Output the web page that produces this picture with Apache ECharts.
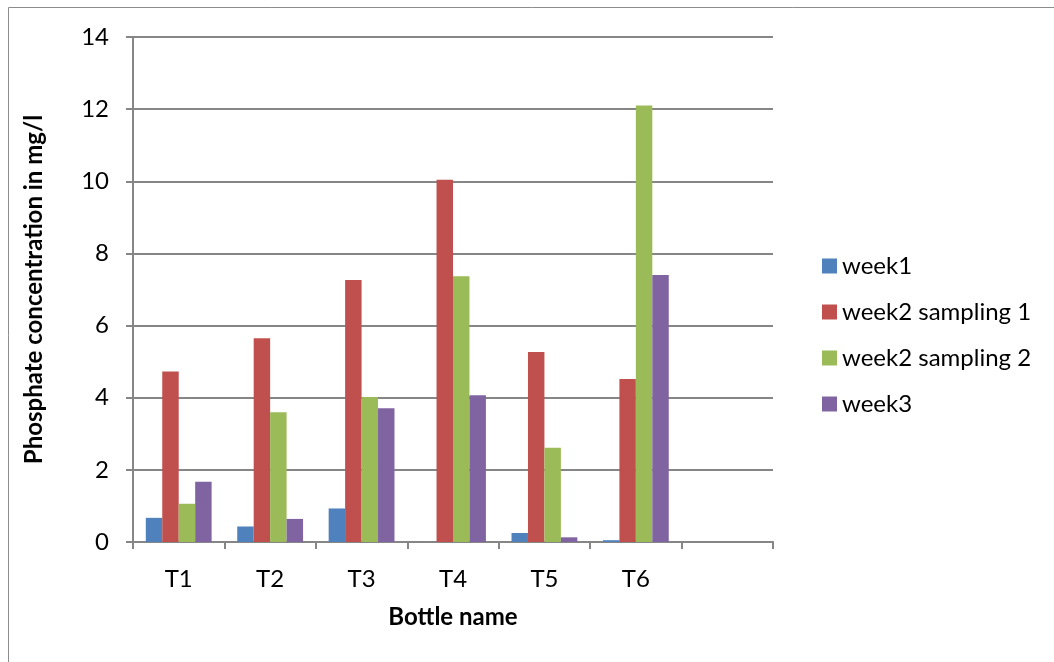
<!DOCTYPE html>
<html>
<head>
<meta charset="utf-8">
<script src="https://cdn.jsdelivr.net/npm/echarts@6/dist/echarts.min.js"></script>
<style>
  html, body { margin: 0; padding: 0; background: #fff; }
  #chart { width: 1054px; height: 662px; }
</style>
</head>
<body>
<div id="chart"></div>
<script>
// Bottle names (the last slot is an empty category)
const categories = ['T1', 'T2', 'T3', 'T4', 'T5', 'T6', ''];

// Phosphate concentration (mg/l) per sampling
const week1 = [0.67, 0.43, 0.93, 0, 0.25, 0.05, null];
const week2Sampling1 = [4.73, 5.65, 7.26, 10.04, 5.27, 4.52, null];
const week2Sampling2 = [1.06, 3.60, 4.02, 7.37, 2.61, 12.10, null];
const week3 = [1.67, 0.64, 3.71, 4.07, 0.13, 7.40, null];

const seriesNames = ['week1', 'week2 sampling 1', 'week2 sampling 2', 'week3'];
const seriesData = [week1, week2Sampling1, week2Sampling2, week3];
const colors = ['#4F81BD', '#C0504D', '#9BBB59', '#8064A2'];

const FONT = 'Lato, "Open Sans", sans-serif';
const GRAY = '#868686';

const chart = echarts.init(document.getElementById('chart'));

chart.setOption({
  animation: false,
  color: colors,
  textStyle: { fontFamily: FONT },
  graphic: [{
    type: 'rect',
    shape: { x: 8.5, y: 7.5, width: 1200, height: 800 },
    style: { fill: 'none', stroke: '#8c8c8c', lineWidth: 1 },
    silent: true
  }],
  grid: { left: 133, right: 281, top: 37, bottom: 120 },
  legend: {
    orient: 'vertical',
    left: 817,
    top: 249,
    icon: 'rect',
    itemWidth: 15,
    itemHeight: 15,
    itemGap: 22,
    data: seriesNames,
    textStyle: { fontFamily: FONT, fontSize: 24, lineHeight: 24, color: '#000' }
  },
  xAxis: {
    type: 'category',
    data: categories,
    name: 'Bottle name',
    nameLocation: 'middle',
    nameGap: 63,
    nameTextStyle: { fontFamily: FONT, fontSize: 24, fontWeight: 'bold', color: '#000' },
    axisLine: { lineStyle: { color: GRAY, width: 2 } },
    axisTick: { show: true, length: 7, alignWithLabel: false, lineStyle: { color: GRAY, width: 2 } },
    axisLabel: { fontFamily: FONT, fontSize: 24, color: '#000', margin: 25 },
    splitLine: { show: false }
  },
  yAxis: {
    type: 'value',
    min: 0,
    max: 14,
    interval: 2,
    name: 'Phosphate concentration in mg/l',
    nameLocation: 'middle',
    nameGap: 87,
    nameRotate: 90,
    nameTextStyle: { fontFamily: FONT, fontSize: 24, fontWeight: 'bold', color: '#000' },
    axisLine: { show: true, lineStyle: { color: GRAY, width: 2 } },
    axisTick: { show: true, length: 7, lineStyle: { color: GRAY, width: 2 } },
    axisLabel: { fontFamily: FONT, fontSize: 24, color: '#000', margin: 24 },
    splitLine: { show: true, lineStyle: { color: GRAY, width: 2 } }
  },
  series: seriesData.map((d, i) => ({
    name: seriesNames[i],
    type: 'bar',
    data: d,
    barGap: '0%',
    barCategoryGap: '28%',
    itemStyle: { color: colors[i] }
  }))
});
</script>
</body>
</html>
